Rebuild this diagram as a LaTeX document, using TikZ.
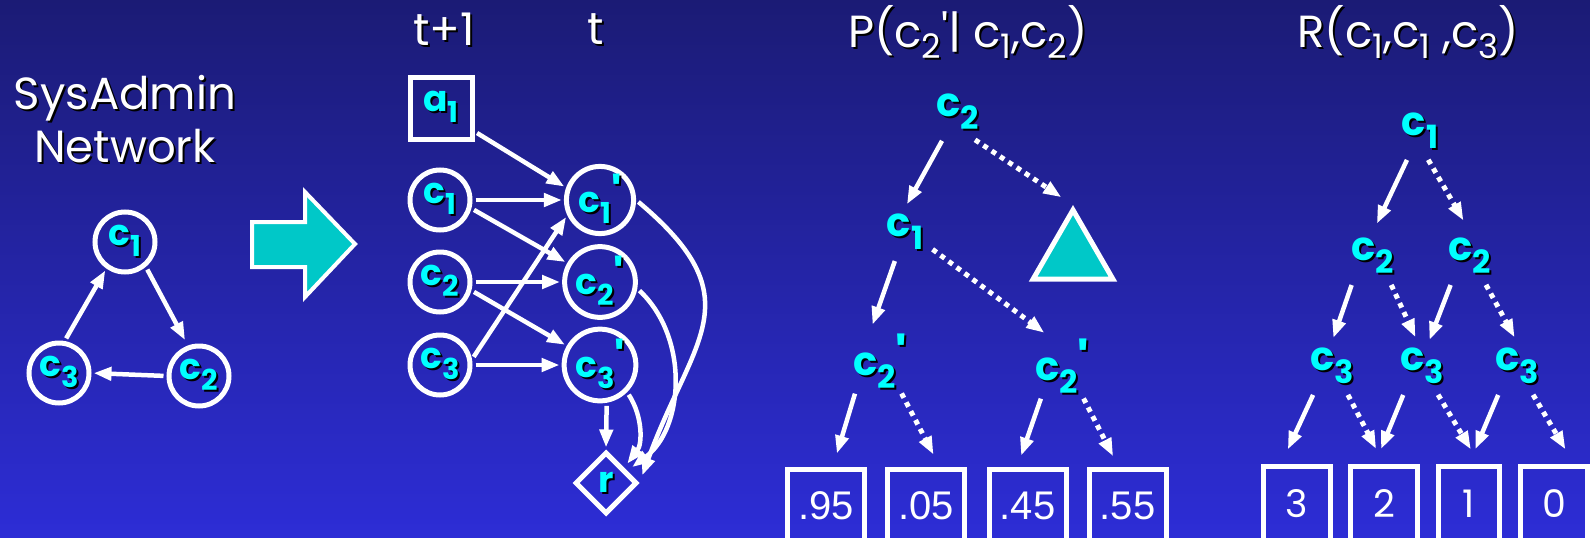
\documentclass[tikz,border=0pt]{standalone}
\usepackage{fontspec}
\setmainfont{Poppins}
\newfontfamily\numfont{Liberation Sans}
\usetikzlibrary{arrows.meta,shapes.geometric,positioning}
\definecolor{bgtop}{RGB}{27,27,117}
\definecolor{bgbot}{RGB}{45,45,214}
\definecolor{arrowfill}{RGB}{0,200,200}
\definecolor{varcyan}{RGB}{0,255,255}
\newcommand{\shd}[1]{\makebox[0pt][l]{\kern2pt\raisebox{-2pt}{\color{black}#1}}#1}
\newcommand{\sv}[3][]{\shd{#2\raisebox{-.32em}{\scalebox{.8}{#3}}\raisebox{.02em}{\scalebox{1.3}{#1}}}}
\newcommand{\tsub}[1]{\raisebox{-.25em}{\scalebox{.75}{#1}}}

\begin{document}
\begin{tikzpicture}[x=1pt,y=-1pt,
    title/.style={text=white, font=\fontsize{45}{53}\selectfont, align=center, inner sep=0pt},
    var/.style={circle, draw=white, line width=5pt, minimum size=60pt, inner sep=0pt,
      text=varcyan, font=\bfseries\fontsize{36}{36}\selectfont},
    act/.style={var, rectangle, minimum size=62pt},
    rew/.style={var, diamond, minimum size=62pt},
    test/.style={inner sep=0pt, minimum size=50pt, text=varcyan,
      font=\bfseries\fontsize{40}{40}\selectfont},
    rest/.style={regular polygon, regular polygon sides=3, draw=white, fill=arrowfill,
      line width=5pt, minimum size=92pt, inner sep=0pt},
    leaf/.style={draw=white, line width=5pt, minimum width=77pt, minimum height=72pt,
      inner sep=0pt, text=white, font=\numfont\fontsize{40}{40}\selectfont},
    val/.style={leaf, minimum width=67pt, minimum height=74pt, font=\fontsize{38}{38}\selectfont},
    arrow/.style={-{Triangle[length=18pt,width=13pt]}, line width=4.5pt, draw=white,
      shorten <=3pt, shorten >=2pt},
    dotarrow/.style={arrow, line width=5pt, dash pattern=on 5pt off 5pt},
  ]
  \useasboundingbox (0,0) rectangle (1590,538);
  \clip (0,0) rectangle (1590,538);
  \shade[top color=bgtop, bottom color=bgbot] (0,0) rectangle (1590,538);

  \node[title] (net) at (125,120) {\shd{SysAdmin}\\\shd{Network}};
  \node[var] (n1) at (125,242) {\sv{c}{1}};
  \node[var] (n2) at (199,376) {\sv{c}{2}};
  \node[var] (n3) at (59,373) {\sv{c}{3}};
  \draw[arrow, shorten >=6pt] (n1.-50) -- (n2.110);
  \draw[arrow] (n2.west) -- (n3.east);
  \draw[arrow] (n3.80) -- (n1.235);

  \draw[draw=white, fill=arrowfill, line width=4pt] (252,222) -- (305,222) -- (305,192)
    -- (355,244) -- (305,297) -- (305,267) -- (252,267) -- cycle;

  \node[title] (tnext) at (444,30) {\shd{t+1}};
  \node[title] (tnow) at (596,30) {\shd{t}};
  \node[act] (a1) at (441,108) {\sv{a}{1}};
  \node[var] (c1) at (440,200) {\sv{c}{1}};
  \node[var] (c2) at (440,282) {\sv{c}{2}};
  \node[var] (c3) at (440,365) {\sv{c}{3}};
  \node[var] (c1p) at (600,200) {\sv[\textquotesingle]{c}{1}};
  \node[var] (c2p) at (600,282) {\sv[\textquotesingle]{c}{2}};
  \node[var] (c3p) at (600,365) {\sv[\textquotesingle]{c}{3}};
  \node[rew] (r) at (606,483) {\shd{r}};
  \draw[arrow] (a1.-35) -- (c1p.160);
  \draw[arrow] (c1) -- (c1p);
  \draw[arrow] (c1.-15) -- (c2p.150);
  \draw[arrow] (c2) -- (c2p);
  \draw[arrow] (c2.-15) -- (c3p.150);
  \draw[arrow] (c3) -- (c3p);
  \draw[arrow] (c3.10) -- (c1p.205);
  \draw[arrow] (c3p.-80) -- (r.north);
  \draw[arrow, shorten >=5pt] (c3p.-45) to[bend left=35] (r.40);
  \draw[arrow, shorten >=6pt] (c2p.-10) to[bend left=50] (r.30);
  \draw[arrow, shorten >=8pt] (c1p.east) to[out=-40, in=70, looseness=1.4] (r.east);

  \node[title] (ptitle) at (968,33) {\shd{P(c\tsub{2}\textquotesingle| c\tsub{1},c\tsub{2})}};
  \node[test] (p2) at (958,113) {\sv{c}{2}};
  \node[test] (p1) at (905,233) {\sv{c}{1}};
  \node[test] (p2a) at (880,362) {\sv[\textquotesingle]{c}{2}};
  \node[test] (p2b) at (1062,367) {\sv[\textquotesingle]{c}{2}};
  \node[rest] (tri) at (1073,256) {};
  \node[leaf] (l95) at (826,505.5) {.95};
  \node[leaf] (l05) at (926,505.5) {.05};
  \node[leaf] (l45) at (1027.5,505.5) {.45};
  \node[leaf] (l55) at (1127.5,505.5) {.55};
  \draw[arrow, shorten >=4pt] (p2.240) -- (p1.north);
  \draw[dotarrow, shorten >=14pt] (p2.300) -- (tri.corner 1);
  \draw[arrow, shorten >=9pt] (p1.250) -- (p2a.110);
  \draw[dotarrow, shorten >=9pt] (p1.330) -- (p2b.110);
  \draw[arrow, shorten >=14pt] (p2a.230) -- (l95.80);
  \draw[dotarrow, shorten >=14pt] (p2a.305) -- (l05.70);
  \draw[arrow, shorten >=12pt] (p2b.235) -- (l45.105);
  \draw[dotarrow, shorten >=12pt] (p2b.305) -- (l55.103);

  \node[title] (rtitle) at (1408,33) {\shd{R(c\tsub{1},c\tsub{1} ,c\tsub{3})}};
  \node[test] (q1) at (1420,132) {\sv{c}{1}};
  \node[test] (q2a) at (1373,257) {\sv{c}{2}};
  \node[test] (q2b) at (1470,257) {\sv{c}{2}};
  \node[test] (q3a) at (1332,367) {\sv{c}{3}};
  \node[test] (q3b) at (1422,367) {\sv{c}{3}};
  \node[test] (q3c) at (1517,367) {\sv{c}{3}};
  \node[val] (v3) at (1297,503.5) {3};
  \node[val] (v2) at (1384,503.5) {2};
  \node[val, minimum width=61pt] (v1) at (1469,503.5) {1};
  \node[val] (v0) at (1554,503.5) {0};
  \draw[arrow, shorten >=9pt] (q1.245) -- (q2a.north);
  \draw[dotarrow, shorten >=13pt] (q1.285) -- (q2b.north);
  \draw[arrow, shorten >=4pt] (q2a.231) -- (q3a.north);
  \draw[dotarrow, shorten >=5pt] (q2a.304) -- (q3b.100);
  \draw[arrow, shorten >=2pt] (q2b.234) -- (q3b.75);
  \draw[dotarrow, shorten >=5pt] (q2b.300) -- (q3c.north);
  \draw[arrow, shorten >=16pt] (q3a.235) -- (v3.112);
  \draw[dotarrow, shorten >=17pt] (q3a.300) -- (v2.north);
  \draw[arrow, shorten >=16pt] (q3b.235) -- (v2.103);
  \draw[dotarrow, shorten >=17pt] (q3b.300) -- (v1.75);
  \draw[arrow, shorten >=16pt] (q3c.235) -- (v1.north);
  \draw[dotarrow, shorten >=17pt] (q3c.300) -- (v0.63);
\end{tikzpicture}
\end{document}
